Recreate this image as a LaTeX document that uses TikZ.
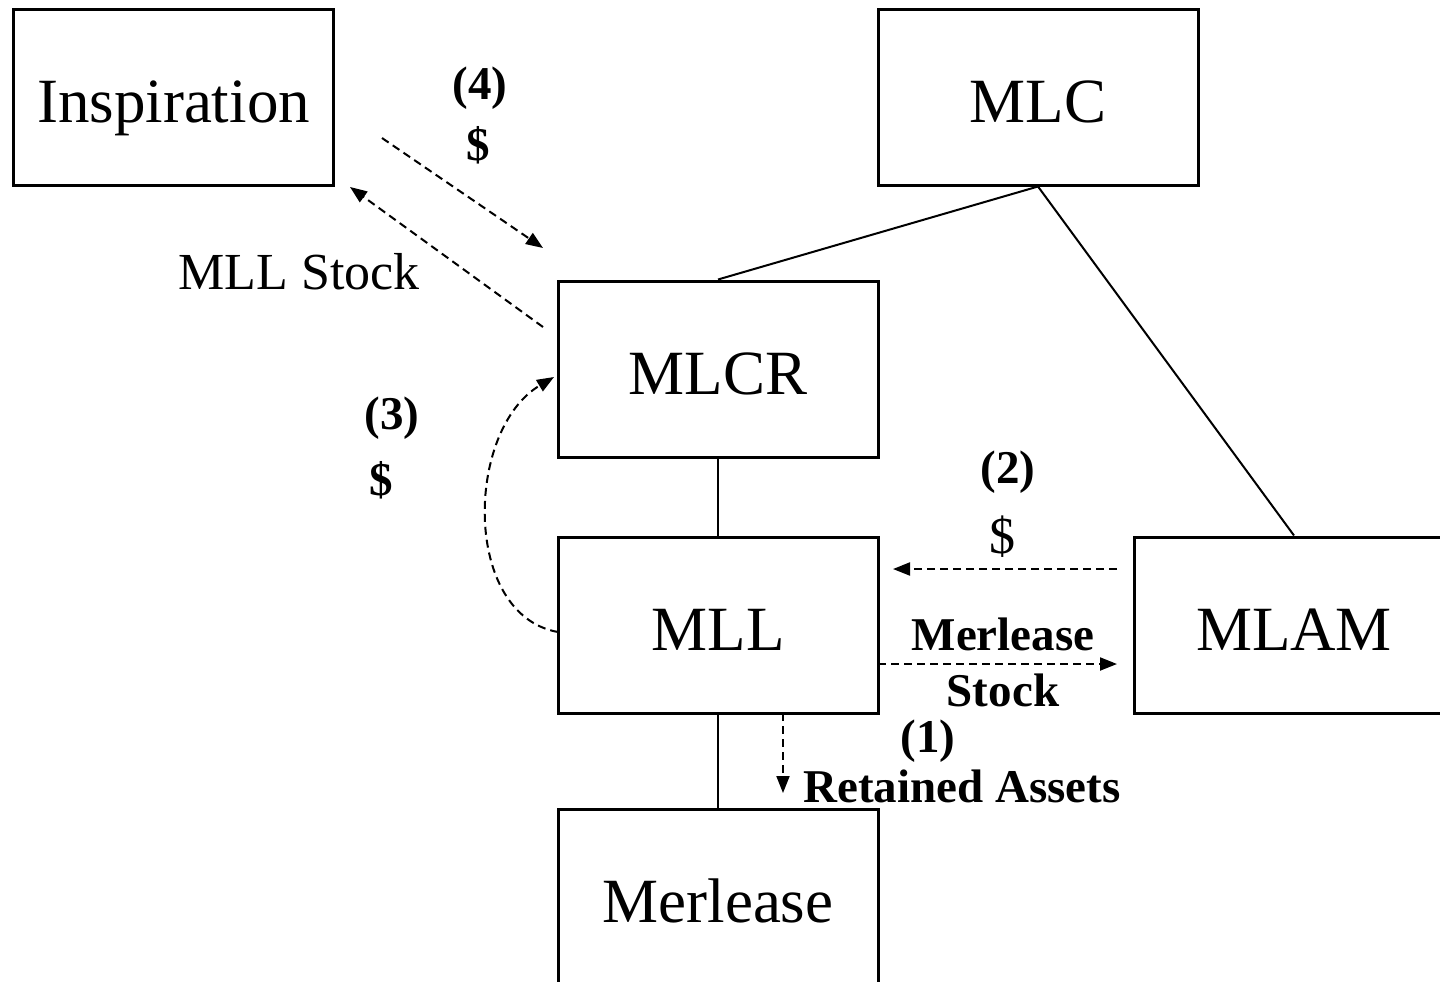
\documentclass[tikz,border=0pt]{standalone}
\usepackage{fontspec}
\setmainfont{Liberation Serif}
\usetikzlibrary{arrows.meta}

\tikzstyle{firm} = [draw, line width=1.5pt, minimum width=160pt, minimum height=88pt, inner sep=0pt, text height=31pt, text depth=6pt, font=\fontsize{31.5}{36}\selectfont]
\tikzstyle{flow} = [line width=1pt, dash pattern=on 4pt off 2.5pt, -{Triangle[length=8.5pt,width=6.5pt]}]
\tikzstyle{tag} = [inner sep=0pt, font=\fontsize{23.5}{26}\selectfont\bfseries]

\begin{document}
\begin{tikzpicture}[x=0.5pt, y=-0.5pt]
\useasboundingbox (0,0) rectangle (1440,981);
\clip (0,0) rectangle (1440,981);

\node[firm] (insp) at (173.5,97) {Inspiration};
\node[firm] (mlc) at (1038,97) {MLC};
\node[firm] (mlcr) at (718,369) {MLCR};
\node[firm] (mll) at (718,625) {MLL};
\node[firm] (mlam) at (1294,625) {MLAM};
\node[firm] (merlease) at (718,897) {Merlease};

% ownership lines
\draw[line width=1pt] (mlc.south) -- (mlcr.north);
\draw[line width=1pt] (mlc.south) -- (mlam.north);
\draw[line width=1pt] (mlcr.south) -- (mll.north);
\draw[line width=1pt] (mll.south) -- (merlease.north);

% end points of the flows
\coordinate (c4a) at (382,138);
\coordinate (c4b) at (543,248);
\coordinate (csa) at (543,327);
\coordinate (csb) at (350,187);
\coordinate (c3a) at (558,632);
\coordinate (c3b) at (554,377);
\coordinate (c2a) at (1117,569);
\coordinate (c2b) at (893,569);
\coordinate (cma) at (878,664);
\coordinate (cmb) at (1117,664);
\coordinate (c1a) at (783,713);
\coordinate (c1b) at (783,793);

\draw[flow] (c4a) -- (c4b);
\draw[flow] (csa) -- (csb);
\draw[flow] (c3a) .. controls (462,615) and (465,430) .. (c3b);
\draw[flow] (c2a) -- (c2b);
\draw[flow] (cma) -- (cmb);
\draw[flow] (c1a) -- (c1b);

% labels
\node[tag] (t4) at (480,88) {(4)};
\node[tag] (t4d) at (478,145) {\$};
\node[inner sep=0pt, font=\fontsize{26}{30}\selectfont] (tstock) at (299,272) {MLL Stock};
\node[tag] (t3) at (392,418) {(3)};
\node[tag] (t3d) at (381,480) {\$};
\node[tag] (t2) at (1008,472) {(2)};
\node[inner sep=0pt, font=\fontsize{26}{30}\selectfont] (t2d) at (1002,537) {\$};
\node[tag] (tmer) at (1003,634) {Merlease};
\node[tag] (tmst) at (1003,690) {Stock};
\node[tag] (t1) at (928,741) {(1)};
\node[tag] (tret) at (962,786) {Retained Assets};
\end{tikzpicture}
\end{document}
